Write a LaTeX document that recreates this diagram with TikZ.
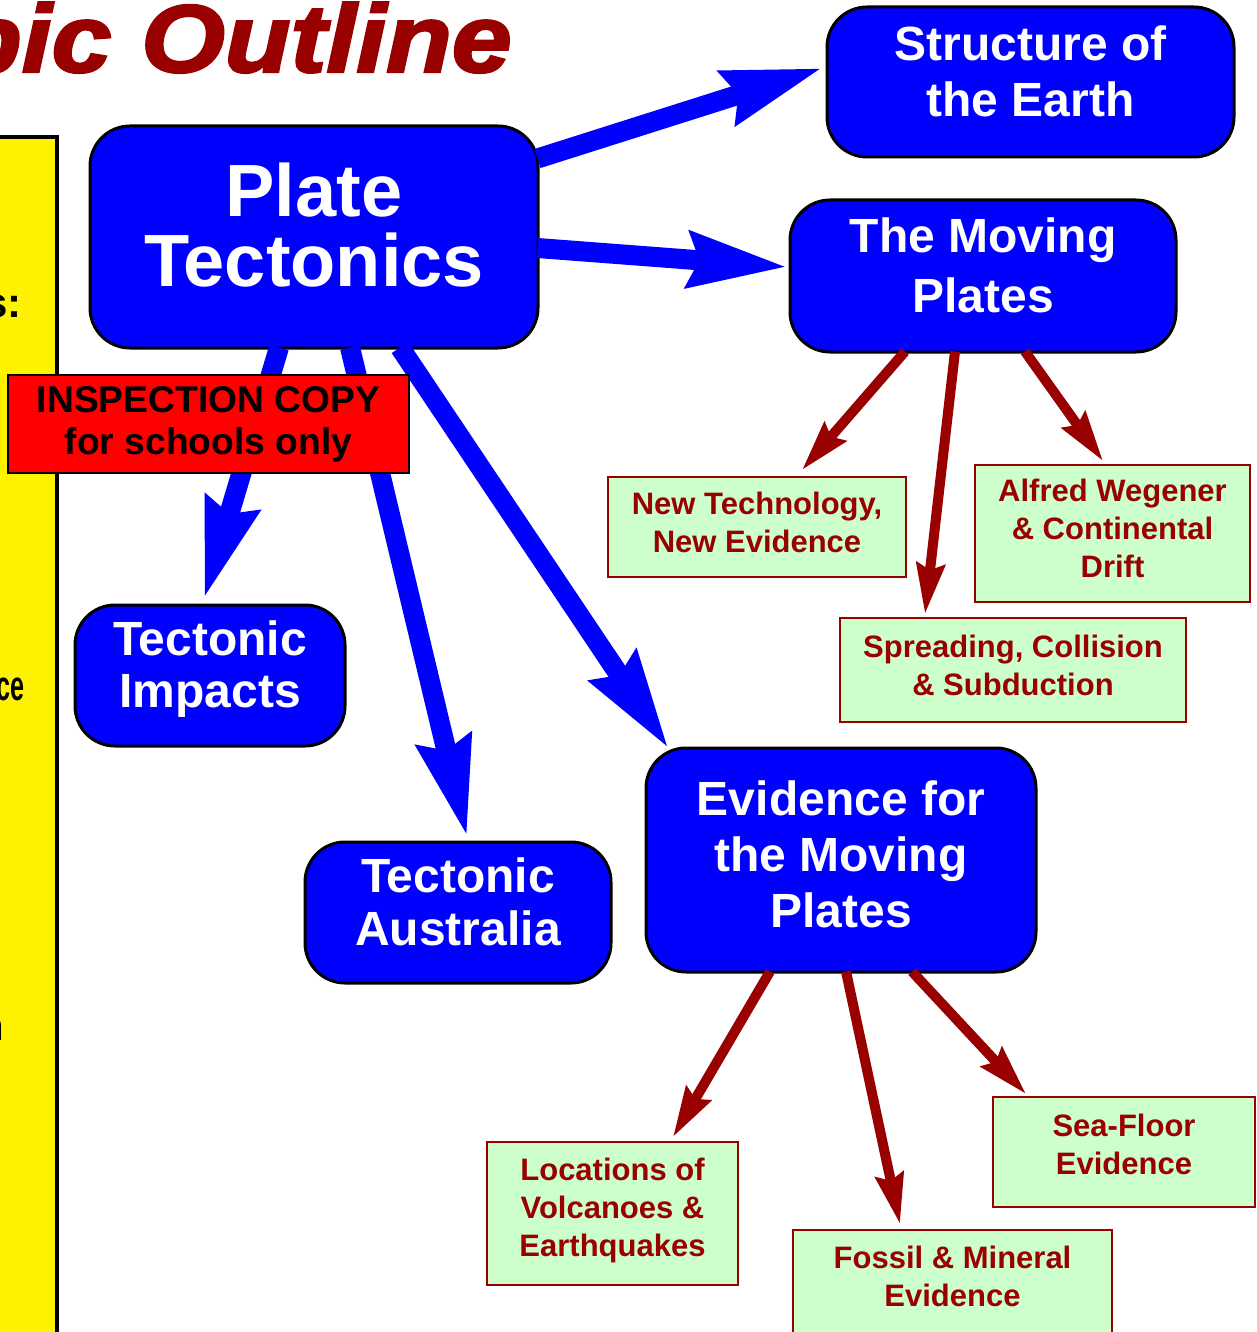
\documentclass[tikz,border=0pt]{standalone}
\usepackage{fontspec}
\setmainfont{Liberation Sans}
\newfontfamily\titlefont{Liberation Sans}[BoldItalicFeatures={FakeBold=2.5}]
\usetikzlibrary{arrows.meta,calc}

\definecolor{pureblue}{RGB}{0,0,255}
\definecolor{darkred}{RGB}{153,0,0}
\definecolor{palegreen}{RGB}{204,255,204}

\begin{document}
\begin{tikzpicture}[x=0.5pt, y=-0.5pt,
    bluebox/.style={draw=black, line width=1.5pt, fill=pureblue, rounded corners=20pt,
        text=white, font=\bfseries\fontsize{24}{28}\selectfont, align=center,
        text depth=11pt, inner sep=0pt},
    greenbox/.style={draw=darkred, line width=1pt, fill=palegreen, text=darkred,
        font=\bfseries\fontsize{15.5}{19}\selectfont, align=center,
        text depth=5pt, inner sep=0pt},
    fragment/.style={anchor=base east, inner sep=0pt, font=\bfseries\fontsize{21}{21}\selectfont},
    bluearrow/.style={pureblue, line width=10pt, -{Stealth[length=49pt, width=27pt, inset=5pt]}},
    redarrow/.style={darkred, line width=5pt, -{Stealth[length=25pt, width=14pt, inset=3pt]}}]
    \useasboundingbox (0,0) rectangle (1257,1332);
    \clip (0,0) rectangle (1257,1332);

    % Left panel and title
    \draw[line width=2pt, fill=yellow] (-20,137) rectangle (57,1360);
    \node[fragment] (fraga) at (22,317) {s:};
    \node[fragment] (fragb) at (25,700) {\scalebox{0.6}[1]{ce}};
    \node[fragment] (fragc) at (5,1040) {n};
    \node[anchor=base east, inner sep=0pt, text=darkred,
        font=\titlefont\bfseries\itshape\fontsize{48}{48}\selectfont]
        (title) at (512,72) {\scalebox{1.12}[1]{Topic Outline}};

    % Blue boxes
    \node[bluebox, minimum width=224pt, minimum height=111pt, text depth=12pt,
        font=\bfseries\fontsize{37}{35}\selectfont] (plate) at (314,237) {Plate\\Tectonics};
    \node[bluebox, minimum width=203.5pt, minimum height=75pt] (structure) at (1030.5,82) {Structure of\\the Earth};
    \node[bluebox, minimum width=193pt, minimum height=76pt,
        font=\bfseries\fontsize{24}{30}\selectfont] (moving) at (983,276) {The Moving\\Plates};
    \node[bluebox, minimum width=135pt, minimum height=70.5pt,
        font=\bfseries\fontsize{24}{26}\selectfont] (impacts) at (210,675.5) {Tectonic\\Impacts};
    \node[bluebox, minimum width=153pt, minimum height=70.5pt,
        font=\bfseries\fontsize{24}{26.5}\selectfont] (australia) at (458,912.5) {Tectonic\\Australia};
    \node[bluebox, minimum width=195pt, minimum height=112pt, text depth=6pt] (evidence) at (841,860)
        {Evidence for\\the Moving\\Plates};

    % Green boxes
    \node[greenbox, minimum width=149pt, minimum height=50pt] (newtech) at (757,527) {New Technology,\\New Evidence};
    \node[greenbox, minimum width=137.5pt, minimum height=68.5pt] (wegener) at (1112.5,533.5)
        {Alfred Wegener\\\& Continental\\Drift};
    \node[greenbox, minimum width=173pt, minimum height=52pt] (spreading) at (1013,670)
        {Spreading, Collision\\\& Subduction};
    \node[greenbox, minimum width=125.5pt, minimum height=71.5pt, text depth=6pt] (locations) at (612.5,1213.5)
        {Locations of\\Volcanoes \&\\Earthquakes};
    \node[greenbox, minimum width=131pt, minimum height=55pt, text depth=8pt] (seafloor) at (1124,1152)
        {Sea-Floor\\Evidence};
    \node[greenbox, minimum width=159.5pt, minimum height=55pt, text depth=9pt] (fossil) at (952.5,1285)
        {Fossil \& Mineral\\Evidence};

    % Blue arrows
    \draw[bluearrow] ($(plate.north east)+(-2,34)$) -- ($(structure.west)+(-3,-14)$);
    \draw[bluearrow] ($(plate.east)+(-2,11)$) -- ($(moving.west)+(-1,-9)$);
    \draw[bluearrow] ($(plate.south)+(-35,-2)$) -- ($(impacts.north)+(-6,-5)$);
    \draw[bluearrow] ($(plate.south)+(36,-2)$) -- ($(australia.north)+(9,-4)$);
    \draw[bluearrow] ($(plate.south)+(86,-2)$) -- ($(evidence.north west)+(24,2)$);

    % Red arrows
    \foreach \src/\dx/\dst/\ex/\ey in {moving/-78/newtech/45/-6, moving/-28/spreading/-88/-3,
        moving/42/wegener/-9.5/-3, evidence/-71/locations/60.5/-4, evidence/5/fossil/-52.5/-5,
        evidence/71/seafloor/-98/-2}
        \draw[redarrow] ($(\src.south)+(\dx,-2)$) -- ($(\dst.north)+(\ex,\ey)$);

    % Stamp
    \node[draw=black, line width=1pt, fill=red, minimum width=200.5pt, minimum height=49pt,
        inner sep=0pt, align=center, font=\bfseries\fontsize{18.6}{21}\selectfont]
        (stamp) at (208.5,424) {INSPECTION COPY\\for schools only};
\end{tikzpicture}
\end{document}
